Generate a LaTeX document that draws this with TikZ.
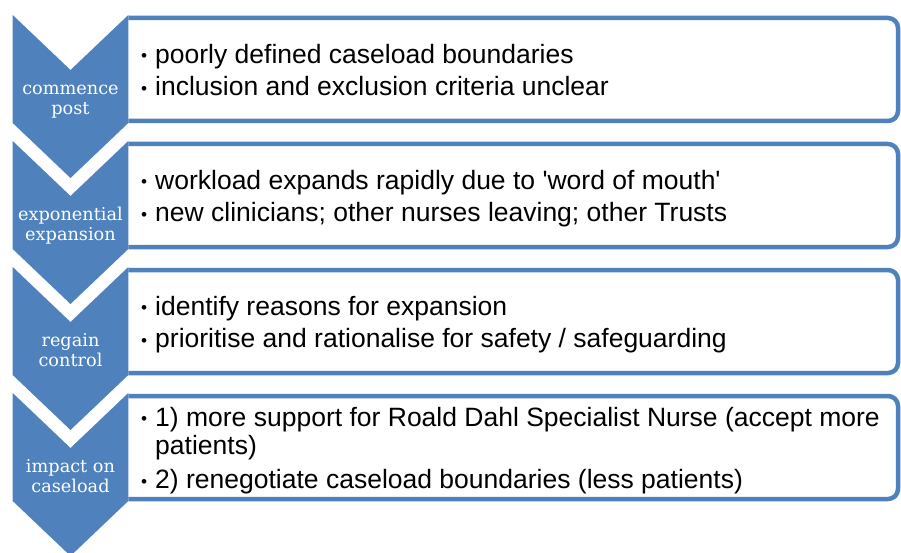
\documentclass[tikz,border=0pt]{standalone}
\usepackage{fontspec}
\usepackage{graphicx}
\setmainfont{Liberation Sans}
\newfontfamily\stagefont{DejaVu Serif}
\definecolor{accent}{HTML}{4F81BD}
\tikzset{
  stage/.style={text=white, align=center, inner sep=0pt,
    font=\stagefont\fontsize{17.7}{20.7}\selectfont},
  items/.style={anchor=west, align=left, inner sep=0pt,
    font=\fontsize{26.5}{27}\selectfont},
  boxline/.style={draw=accent, fill=white, line width=4.5pt, rounded corners=10pt}
}
\newcommand\itm{\strut\makebox[14pt][l]{\raisebox{0.06em}{\scalebox{0.65}{\textbullet}}}}
\def\chevron(#1)#2#3 % Syntax: (top) {name} {label}
    { \fill[accent] (12.7,#1) -- (70.5,#1+55) -- (128.3,#1) -- (128.3,#1+108)
        -- (70.5,#1+163) -- (12.7,#1+108) -- cycle;
      \node[stage] (#2) at (70.5,#1+85.5) {#3}; }
\def\itembox(#1)#2#3 % Syntax: (top) {name} {lines}
    { \draw[boxline] (128.3,#1+3) -- (898,#1+3) -- (898,#1+106) -- (128.3,#1+106);
      \node[items] (#2) at (141,#1+59) {#3}; }

\begin{document}
\begin{tikzpicture}[x=1pt,y=-1pt]
\useasboundingbox (0,0) rectangle (901,553);

\itembox(15){start}{\itm poorly defined caseload boundaries\\[4pt]
  \itm inclusion and exclusion criteria unclear}
\chevron(15){commence}{commence\strut\\post\strut}

\itembox(141){growth}{\itm workload expands rapidly due to \textquotesingle word of mouth\textquotesingle\\[4pt]
  \itm new clinicians; other nurses leaving; other Trusts}
\chevron(141){expansion}{exponential\strut\\expansion\strut}

\itembox(267){control}{\itm identify reasons for expansion\\[4pt]
  \itm prioritise and rationalise for safety / safeguarding}
\chevron(267){regain}{regain\strut\\control\strut}

\itembox(393){impact}{\itm 1) more support for Roald Dahl Specialist Nurse (accept more\\
  \strut\hspace*{14pt}patients)\\[6pt]
  \itm 2) renegotiate caseload boundaries (less patients)}
\chevron(393){caseload}{impact on\strut\\caseload\strut}

\end{tikzpicture}
\end{document}
